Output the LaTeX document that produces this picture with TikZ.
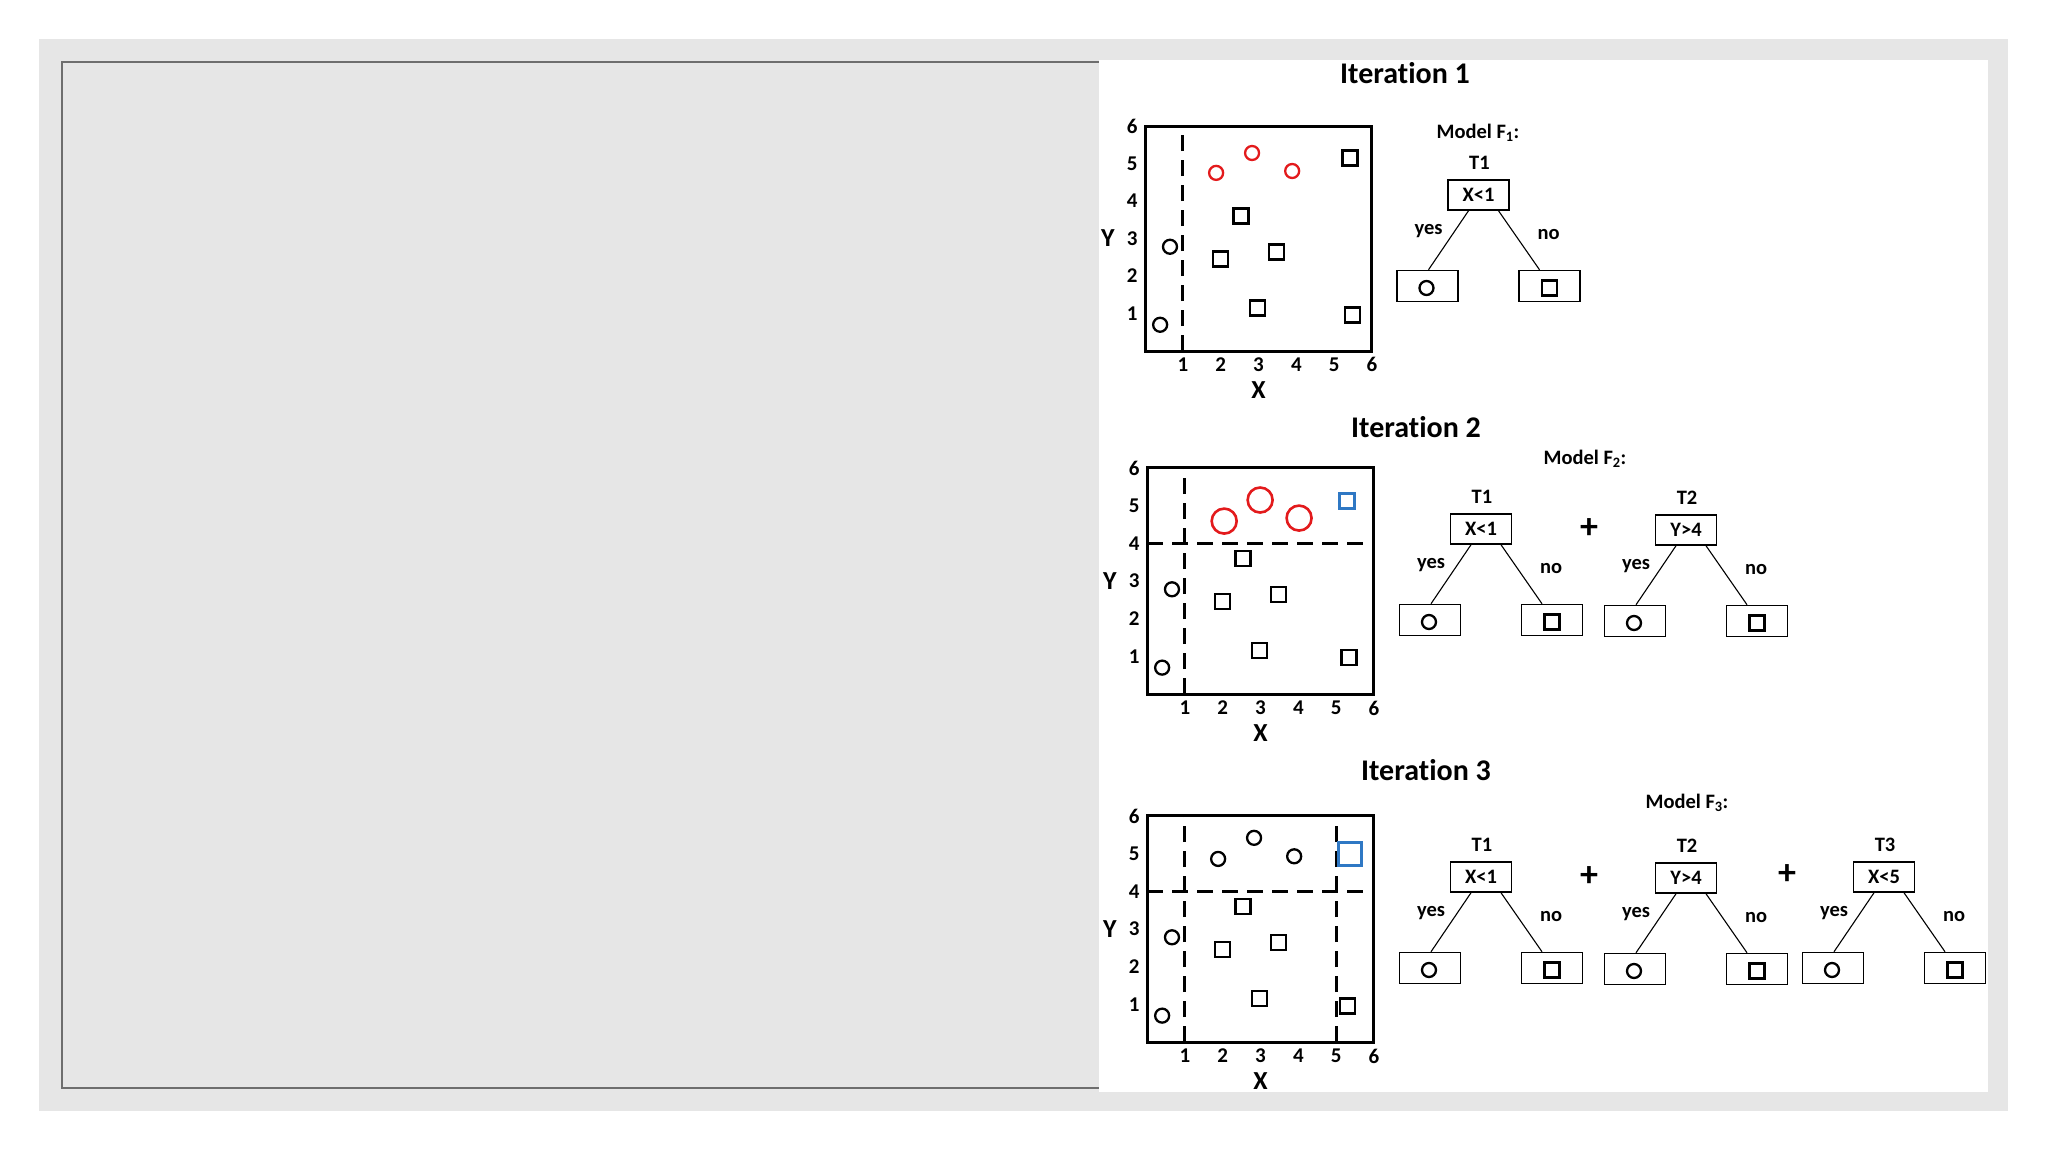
\documentclass[tikz,border=0pt]{standalone}
\usepackage{fontspec}
\setmainfont[Ligatures=NoCommon]{Carlito}
\definecolor{panelgray}{HTML}{E6E6E6}
\definecolor{bordergray}{HTML}{6E6E6E}
\definecolor{ptred}{HTML}{E31A1C}
\definecolor{ptblue}{HTML}{2F78C4}
\tikzset{
  plotframe/.style={draw=black,line width=3pt},
  splitline/.style={draw=black,line width=3pt,dash pattern=on 16pt off 9pt},
  tick/.style={font=\fontsize{21}{25}\selectfont\bfseries,inner sep=0pt},
  axlbl/.style={font=\fontsize{26}{30}\selectfont\bfseries,inner sep=0pt},
  ttl/.style={font=\fontsize{30}{34}\selectfont\bfseries,inner sep=0pt},
  small/.style={font=\fontsize{20.5}{24}\selectfont\bfseries,inner sep=0pt},
  plusl/.style={font=\fontsize{36}{40}\selectfont\bfseries,inner sep=0pt},
  ptcirc/.style={circle,draw=black,line width=2.3pt,minimum size=14pt,inner sep=0pt},
  ptsq/.style={rectangle,draw=black,line width=2.3pt,minimum size=15pt,inner sep=0pt},
  redc/.style={ptcirc,draw=ptred},
  bigredc/.style={ptcirc,draw=ptred,line width=2.6pt,minimum size=25pt},
  bluesq/.style={ptsq,draw=ptblue},
  bigbluesq/.style={ptsq,draw=ptblue,line width=2.8pt,minimum size=23pt},
  treebox/.style={rectangle,draw=black,line width=1.5pt,minimum width=61pt,minimum height=30pt,inner sep=0pt,font=\fontsize{20.5}{24}\selectfont\bfseries},
  leafbox/.style={rectangle,draw=black,line width=1.5pt,minimum width=61pt,minimum height=31pt,inner sep=0pt},
  treeline/.style={draw=black,line width=1.1pt},
}
% tree: prefix, cx, cy, T label, condition
\newcommand\gbtree[5]{%
  \node[treebox] (#1root) at (#2,#3) {#5};
  \node[small] (#1t) at (#2+1,#3-32) {#4};
  \node[leafbox] (#1l) at (#2-51,#3+91) {};
  \node[leafbox] (#1r) at (#2+71,#3+91) {};
  \node[ptcirc] (#1lc) at (#2-52,#3+93) {};
  \node[ptsq] (#1rs) at (#2+71,#3+93) {};
  \draw[treeline] ([xshift=-10pt]#1root.south) -- ([xshift=1pt]#1l.north);
  \draw[treeline] ([xshift=20pt]#1root.south) -- ([xshift=-10pt]#1r.north);
  \node[small] (#1yes) at (#2-50,#3+36) {yes};
  \node[small] (#1no) at (#2+70,#3+40) {no};
}
% axes and common points, in data units
\newcommand\gbaxes[1]{%
  \foreach \k in {1,...,6} {
    \node[tick] (#1x\k) at (\k,-0.37) {\k};
    \node[tick] (#1y\k) at (-0.34,\k) {\k};
  }
  \node[axlbl] (#1X) at (3,-1.04) {X};
  \node[axlbl] (#1Y) at (-0.98,3) {Y};
  \node[ptcirc] (#1c1) at (0.66,2.78) {};
  \node[ptcirc] (#1c2) at (0.4,0.7) {};
  \node[ptsq] (#1s1) at (2.54,3.6) {};
  \node[ptsq] (#1s2) at (2.0,2.45) {};
  \node[ptsq] (#1s3) at (3.48,2.64) {};
  \node[ptsq] (#1s4) at (2.98,1.15) {};
}
\begin{document}
\begin{tikzpicture}[x=1pt,y=-1pt]
\useasboundingbox (0,0) rectangle (2048,1152);
\fill[white] (0,0) rectangle (2048,1152);
% frame
\fill[panelgray] (39,39) rectangle (2008,1111);
\fill[panelgray] (62,62) rectangle (1099,1088);
\draw[bordergray,line width=2pt] (1099,62) -- (62,62) -- (62,1088) -- (1099,1088);
\fill[white] (1099,60) rectangle (1988,1092);

% ---------------- Iteration 1
\node[ttl] (t1) at (1405,73) {Iteration 1};
\begin{scope}[shift={(1145,351)},x=37.83pt,y=37.5pt]
  \gbaxes{a}
  \draw[splitline] (1,0) -- (1,6);
  \draw[plotframe] (0,0) rectangle (6,6);
  \node[redc] (ar1) at (1.88,4.75) {};
  \node[redc] (ar2) at (2.83,5.28) {};
  \node[redc] (ar3) at (3.89,4.8) {};
  \node[ptsq] (as5) at (5.42,5.15) {};
  \node[ptsq] (as6) at (5.48,0.96) {};
\end{scope}
\node[small] (m1) at (1478,133) {Model F\textsubscript{1}:};
\gbtree{p}{1478.5}{195}{T1}{X<1}

% ---------------- Iteration 2
\node[ttl] (t2) at (1416,427) {Iteration 2};
\begin{scope}[shift={(1147,694)},x=37.83pt,y=37.67pt]
  \gbaxes{b}
  \draw[splitline] (1,0) -- (1,6);
  \draw[splitline] (0,4) -- (6,4);
  \draw[plotframe] (0,0) rectangle (6,6);
  \node[bigredc] (br1) at (2.04,4.59) {};
  \node[bigredc] (br2) at (2.99,5.15) {};
  \node[bigredc] (br3) at (4.02,4.67) {};
  \node[bluesq] (bb) at (5.29,5.12) {};
  \node[ptsq] (bs6) at (5.34,0.96) {};
\end{scope}
\node[small] (m2) at (1585,459) {Model F\textsubscript{2}:};
\gbtree{q}{1481}{529}{T1}{X<1}
\node[plusl] (plus2) at (1589,529) {+};
\gbtree{r}{1686}{530}{T2}{Y>4}

% ---------------- Iteration 3
\node[ttl] (t3) at (1426,770) {Iteration 3};
\begin{scope}[shift={(1147,1042)},x=37.83pt,y=37.67pt]
  \gbaxes{c}
  \draw[splitline] (1,0) -- (1,6);
  \draw[splitline] (5,0) -- (5,6);
  \draw[splitline] (0,4) -- (6,4);
  \draw[plotframe] (0,0) rectangle (6,6);
  \node[ptcirc] (cr1) at (1.88,4.86) {};
  \node[ptcirc] (cr2) at (2.83,5.42) {};
  \node[ptcirc] (cr3) at (3.89,4.93) {};
  \node[bigbluesq] (cb) at (5.37,5.0) {};
  \node[ptsq] (cs6) at (5.3,0.96) {};
\end{scope}
\node[small] (m3) at (1687,803) {Model F\textsubscript{3}:};
\gbtree{u}{1481}{877}{T1}{X<1}
\node[plusl] (plus3a) at (1589,877) {+};
\gbtree{v}{1686}{878}{T2}{Y>4}
\node[plusl] (plus3b) at (1787,875) {+};
\gbtree{w}{1884}{877}{T3}{X<5}
\end{tikzpicture}
\end{document}
